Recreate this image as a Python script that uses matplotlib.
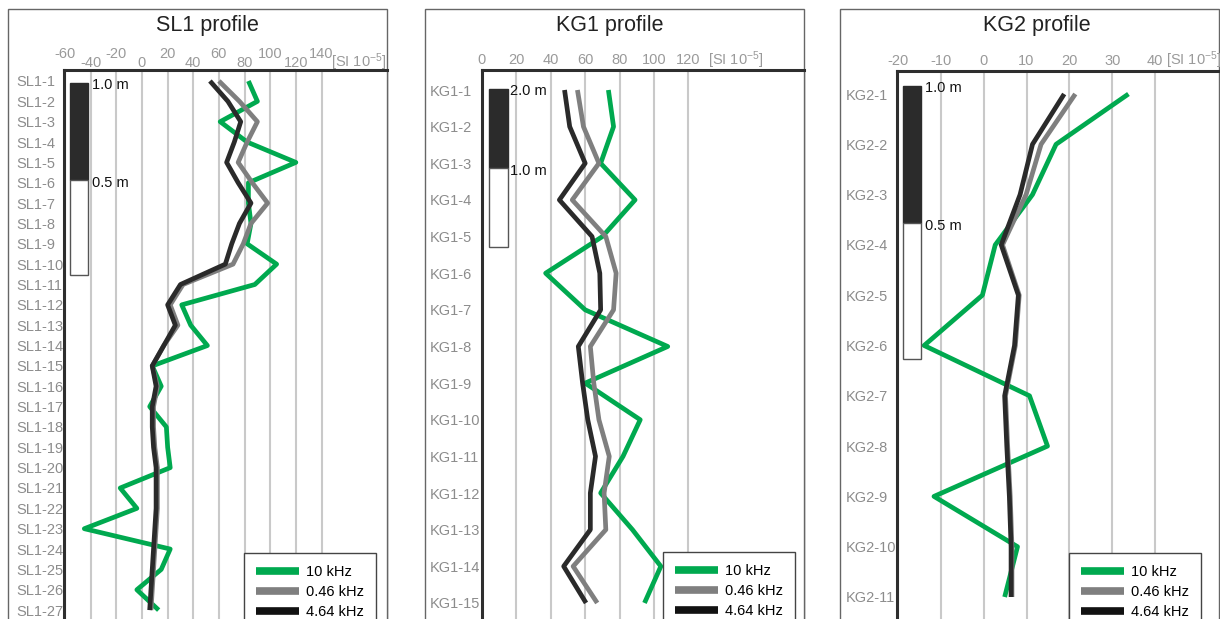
import matplotlib
matplotlib.use('Agg')
import matplotlib.pyplot as plt
from matplotlib.patches import Rectangle
from matplotlib.lines import Line2D

plt.rcParams['font.family'] = ['Liberation Sans', 'DejaVu Sans']
plt.rcParams['mathtext.fontset'] = 'custom'
plt.rcParams['mathtext.rm'] = 'Liberation Sans'
plt.rcParams['mathtext.it'] = 'Liberation Sans:italic'
plt.rcParams['mathtext.bf'] = 'Liberation Sans:bold'

# ---------------- data ----------------
series_names = ['10 kHz', '0.46 kHz', '4.64 kHz']
series_colors = ['#00a94f', '#7f7f7f', '#2a2a2a']
legend_colors = ['#00a94f', '#7f7f7f', '#111111']

sl1_labels = ['SL1-%d' % i for i in range(1, 28)]
sl1_10k = [83, 90, 61, 82, 120, 83, 83, 85, 82, 105, 88, 31, 38, 51, 8, 15, 6, 19, 20, 22, -17, -4, -45, 22, 15, -4, 13]
sl1_046 = [60, 76, 90, 82, 75, 86, 98, 85, 79, 71, 32, 22, 28, 17, 8, 12, 9, 9, 10, 12, 12, 12, 11, 10, 9, 8, 7]
sl1_464 = [53, 67, 77, 72, 66, 75, 85, 76, 70, 65, 30, 20, 26, 17, 8, 11, 8, 8, 9, 11, 11, 11, 10, 9, 8, 7, 6]
sl1_ticks = [-60, -40, -20, 0, 20, 40, 60, 80, 100, 120, 140]
sl1_scale = ['1.0 m', '0.5 m']

kg1_labels = ['KG1-%d' % i for i in range(1, 16)]
kg1_10k = [73.5, 76.5, 69, 89, 70, 37, 60, 108, 60, 92, 82, 69, 87.5, 104, 94.5]
kg1_046 = [55.5, 59, 68, 52.5, 72, 78, 76.5, 63, 65, 68, 74, 71, 72, 53, 67]
kg1_464 = [48, 51, 60, 45, 64, 68.5, 69, 56, 58.5, 61.5, 66, 63, 63, 47.5, 60.5]
kg1_ticks = [0, 20, 40, 60, 80, 100, 120]
kg1_scale = ['2.0 m', '1.0 m']

kg2_labels = ['KG2-%d' % i for i in range(1, 12)]
kg2_10k = [33.8, 16.9, 11.4, 2.7, -0.3, -13.9, 10.7, 14.9, -11.6, 7.9, 4.9]
kg2_046 = [21.4, 13.4, 9.9, 4.4, 8.3, 7.4, 5.1, 5.6, 6.2, 6.6, 6.6]
kg2_464 = [18.8, 11.4, 8.5, 4.1, 8.1, 7.2, 4.9, 5.4, 6.0, 6.4, 6.4]
kg2_ticks = [-20, -10, 0, 10, 20, 30, 40]
kg2_scale = ['1.0 m', '0.5 m']

unit_text = '[SI 10$^{-5}$]'

# ---------------- layout helpers (pixels) ----------------
W, H = 1220, 619
fig = plt.figure(figsize=(W / 100, H / 100), dpi=100)


def fx(px):
    return px / W


def fy(py):
    return 1 - py / H


def pt(px):
    return px * 72 / 100


TICK_C = '#9a9a9a'
YLAB_C = '#8c8c8c'
GRID_C = '#c9c9c9'
SPINE_C = '#2e2e2e'
BOX_C = '#666666'


def panel(title, labels, vals, ticks, scale_labels, lay):
    box_left, ax_left, ax_top, ax_right = lay['box_left'], lay['ax_left'], lay['ax_top'], lay['ax_right']
    bottom_px = 632
    # outer panel box
    fig.add_artist(Rectangle((fx(box_left), fy(650)), fx(ax_right) - fx(box_left), fy(9) - fy(650),
                             transform=fig.transFigure, fill=False, edgecolor=BOX_C, lw=1.0, zorder=0.5))
    ax = fig.add_axes([fx(ax_left), fy(bottom_px), fx(ax_right) - fx(ax_left), (bottom_px - ax_top) / H])
    ax.set_zorder(1)
    # y positions of categories
    y0, ystep = lay['y0'], lay['ystep']
    ax.set_ylim((bottom_px - y0) / ystep, (ax_top - y0) / ystep)
    # x scale from two reference tick pixels
    (v1, p1), (v2, p2) = lay['xref']
    k = (v2 - v1) / (p2 - p1)
    ax.set_xlim(v1 + (ax_left - p1) * k, v1 + (ax_right - p1) * k)

    ypos = list(range(len(labels)))
    for v, c in zip(vals, series_colors):
        ax.plot(v, ypos, color=c, lw=3.4, solid_joinstyle='round', solid_capstyle='butt', zorder=3)

    ax.set_xticks(ticks)
    ax.set_xticklabels([str(t) for t in ticks])
    ax.xaxis.tick_top()
    ax.tick_params(axis='x', length=0, labelcolor=TICK_C, labelsize=10.5, pad=2.0)
    ax.grid(axis='x', color=GRID_C, lw=1.5, zorder=1)
    ax.set_axisbelow(True)
    if lay.get('stagger'):
        for i, tk in enumerate(ax.xaxis.get_major_ticks()):
            tk.set_pad(6.5 if i % 2 == 0 else 0.3)

    ax.set_yticks(ypos)
    ax.set_yticklabels(labels)
    ax.tick_params(axis='y', length=0, labelcolor=YLAB_C, labelsize=10.5, pad=pt(ax_left - lay['ylab_x']))
    for t in ax.get_yticklabels():
        t.set_horizontalalignment('left')

    for s in ['left', 'top']:
        ax.spines[s].set_color(SPINE_C)
        ax.spines[s].set_linewidth(2.2)
    ax.spines['right'].set_color(BOX_C)
    ax.spines['right'].set_linewidth(1.0)
    ax.spines['bottom'].set_visible(False)

    # title
    fig.text(fx(lay['title_x']), fy(26), title, ha='center', va='center', fontsize=15.5, color='#222222')
    # unit label
    ux, uy, uha = lay['unit']
    fig.text(fx(ux), fy(uy), unit_text, ha=uha, va='center', fontsize=10.5, color=TICK_C)

    # scale bar
    bx0, bx1, btop, bmid, bbot = lay['scale']
    fig.add_artist(Rectangle((fx(bx0), fy(bmid)), fx(bx1) - fx(bx0), fy(btop) - fy(bmid),
                             transform=fig.transFigure, facecolor='#2b2b2b', edgecolor='#2b2b2b', lw=1, zorder=5))
    fig.add_artist(Rectangle((fx(bx0), fy(bbot)), fx(bx1) - fx(bx0), fy(bmid) - fy(bbot),
                             transform=fig.transFigure, facecolor='white', edgecolor='#555555', lw=1, zorder=5))
    fig.text(fx(lay['scale_tx']), fy(btop + 2), scale_labels[0], ha='left', va='center', fontsize=10.5,
             color='#111111', zorder=6)
    fig.text(fx(lay['scale_tx']), fy(bmid + 3), scale_labels[1], ha='left', va='center', fontsize=10.5,
             color='#111111', zorder=6)

    # legend
    handles = [Line2D([], [], color=c, lw=5.5, solid_capstyle='butt') for c in legend_colors]
    lx, ly = lay['legend']
    leg = ax.legend(handles, series_names, loc='upper left', bbox_to_anchor=(fx(lx), fy(ly)),
                    bbox_transform=fig.transFigure, frameon=True, fancybox=False, framealpha=1,
                    edgecolor='#444444', borderaxespad=0, fontsize=10.5, handlelength=3.0,
                    handletextpad=0.45, labelspacing=0.42, borderpad=0.8)
    leg.get_frame().set_linewidth(1.0)
    leg.set_zorder(10)
    return ax


panel('SL1 profile', sl1_labels, [sl1_10k, sl1_046, sl1_464], sl1_ticks, sl1_scale,
      dict(box_left=8, ax_left=64, ax_top=70, ax_right=387, y0=81, ystep=20.35,
           xref=((0, 142), (140, 321.5)), stagger=True, ylab_x=16, title_x=207,
           unit=(386, 62, 'right'), scale=(70, 88, 83, 180, 275), scale_tx=92, legend=(244, 553)))

panel('KG1 profile', kg1_labels, [kg1_10k, kg1_046, kg1_464], kg1_ticks, kg1_scale,
      dict(box_left=425, ax_left=482, ax_top=70, ax_right=804, y0=90, ystep=36.64,
           xref=((0, 481), (120, 688)), ylab_x=430, title_x=610,
           unit=(708, 60, 'left'), scale=(489, 508, 89, 168, 247), scale_tx=510, legend=(663, 552)))

panel('KG2 profile', kg2_labels, [kg2_10k, kg2_046, kg2_464], kg2_ticks, kg2_scale,
      dict(box_left=840, ax_left=897, ax_top=71, ax_right=1219, y0=94, ystep=50.3,
           xref=((-20, 898), (40, 1155)), ylab_x=846, title_x=1037,
           unit=(1166, 60, 'left'), scale=(903, 921, 86, 223, 359), scale_tx=925, legend=(1069, 553)))

fig.savefig('out.png', dpi=100, facecolor='white')
